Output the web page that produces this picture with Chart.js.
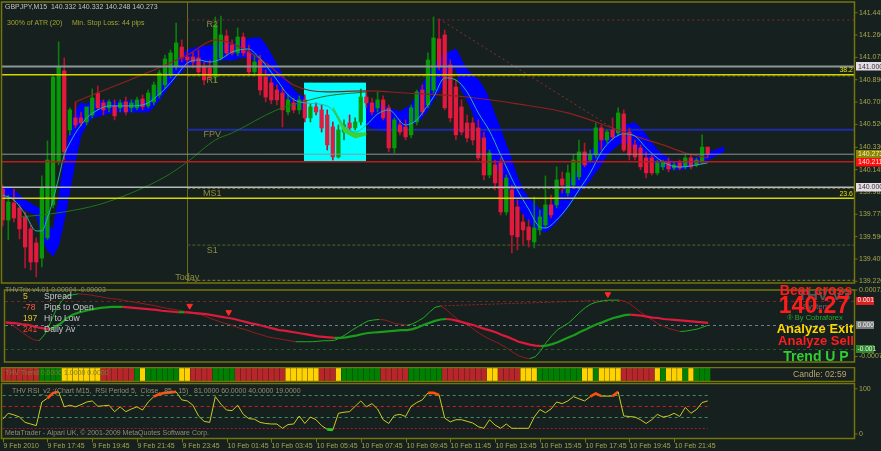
<!DOCTYPE html>
<html><head><meta charset="utf-8"><title>GBPJPY M15</title>
<script src="https://cdn.jsdelivr.net/npm/chart.js@4.4.1/dist/chart.umd.min.js"></script>
<style>
html,body{margin:0;padding:0;background:#16201f;overflow:hidden}
#wrap{position:relative;width:881px;height:451px;background:#16201f}
#wrap canvas{position:absolute;left:0}
</style></head><body>
<div id="wrap">
<canvas id="cMain" width="881" height="285" style="top:0;width:881px;height:285px"></canvas>
<canvas id="cOsc" width="881" height="82" style="top:285px;width:881px;height:82px"></canvas>
<canvas id="cStrip" width="881" height="15" style="top:367px;width:881px;height:15px"></canvas>
<canvas id="cRsi" width="881" height="69" style="top:382px;width:881px;height:69px"></canvas>
</div>
<script>
// ================= DATA =================
const opens=[139.985,139.728,139.869,139.828,139.753,139.654,139.538,139.413,139.580,139.853,
140.209,140.963,140.474,140.574,140.574,140.540,140.598,140.780,140.698,140.657,
140.673,140.657,140.706,140.657,140.657,140.731,140.673,140.706,140.764,140.847,
140.930,140.996,141.161,141.079,141.079,141.071,140.996,140.988,140.913,141.071,
141.253,141.178,141.112,141.244,141.120,140.955,141.054,140.913,140.864,140.805,
140.780,140.623,140.698,140.640,140.723,140.574,140.665,140.640,140.598,140.499,
140.250,140.457,140.532,140.491,140.540,140.747,140.698,140.657,140.723,140.657,
140.325,140.515,140.499,140.433,140.540,140.805,140.681,140.805,141.228,141.261,
141.012,140.830,140.665,140.532,140.532,140.491,140.408,140.101,140.184,140.201,
139.795,139.977,139.836,139.712,139.670,139.546,139.646,139.687,139.853,139.853,
140.068,139.952,140.018,140.085,140.292,140.225,140.267,140.491,140.391,140.474,
140.449,140.607,140.457,140.350,140.325,140.242,140.242,140.118,140.168,140.209,
140.159,140.201,140.168,140.242,140.184,140.209,140.332];
const highs=[140.018,139.935,139.985,139.853,139.794,139.687,139.580,140.093,140.383,140.930,
141.203,141.071,140.657,140.706,140.623,140.640,140.813,140.839,140.723,140.723,
140.723,140.723,140.747,140.723,140.747,140.764,140.805,140.872,140.971,141.095,
141.137,141.360,141.220,141.120,141.120,141.137,141.037,141.054,141.410,141.418,
141.302,141.220,141.319,141.278,141.178,141.095,141.095,140.971,140.905,140.847,
140.822,140.764,140.739,140.756,140.764,140.690,140.698,140.681,140.640,140.540,
140.515,140.557,140.598,140.574,140.813,140.789,140.739,140.789,140.756,140.681,
140.574,140.557,140.557,140.681,140.805,140.847,141.112,141.410,141.393,141.302,
141.054,140.888,140.723,140.598,140.574,140.557,140.457,140.308,140.225,140.242,
140.101,140.018,139.894,139.770,139.728,139.919,139.811,140.093,139.935,140.168,
140.126,140.184,140.267,140.391,140.366,140.308,140.532,140.515,140.474,140.574,
140.657,140.640,140.491,140.391,140.350,140.292,140.267,140.225,140.225,140.242,
140.209,140.225,140.267,140.267,140.242,140.433,140.332];
const lows=[139.679,139.563,139.711,139.571,139.331,139.314,139.256,139.339,139.563,139.828,
140.184,140.225,140.433,140.491,140.507,140.515,140.574,140.640,140.598,140.623,
140.557,140.623,140.598,140.623,140.640,140.640,140.657,140.681,140.739,140.822,
140.905,140.971,141.037,141.012,140.988,140.930,140.847,140.888,140.872,141.054,
141.087,141.095,141.087,141.087,140.930,140.930,140.764,140.706,140.690,140.681,
140.499,140.598,140.615,140.607,140.540,140.540,140.598,140.457,140.308,140.225,
140.242,140.391,140.474,140.474,140.515,140.657,140.598,140.623,140.557,140.292,
140.283,140.433,140.391,140.408,140.515,140.598,140.657,140.780,140.971,140.640,
140.540,140.391,140.433,140.374,140.350,140.225,140.060,140.076,139.977,139.770,
139.770,139.455,139.480,139.521,139.504,139.496,139.604,139.662,139.745,139.828,
139.952,139.927,139.993,140.060,140.168,140.209,140.242,140.308,140.366,140.391,
140.424,140.292,140.225,140.225,140.143,140.076,140.101,140.101,140.143,140.126,
140.143,140.143,140.151,140.151,140.168,140.192,140.248];
const closes=[139.728,139.877,139.745,139.654,139.504,139.380,139.380,139.994,140.225,140.913,
140.996,140.292,140.640,140.515,140.532,140.665,140.739,140.657,140.640,140.706,
140.590,140.698,140.623,140.698,140.723,140.665,140.780,140.847,140.946,141.062,
141.112,141.195,141.071,141.054,141.037,140.955,140.888,140.913,141.344,141.261,
141.112,141.112,141.244,141.112,140.955,141.037,140.805,140.747,140.723,140.723,
140.640,140.723,140.640,140.723,140.574,140.665,140.623,140.491,140.350,140.250,
140.474,140.515,140.491,140.540,140.747,140.698,140.623,140.723,140.574,140.325,
140.557,140.457,140.416,140.657,140.789,140.623,141.054,141.236,140.996,140.657,
140.574,140.433,140.457,140.408,140.391,140.242,140.101,140.283,140.035,139.795,
140.076,139.604,139.588,139.646,139.563,139.662,139.753,139.853,139.770,140.060,
140.018,140.118,140.225,140.292,140.184,140.267,140.491,140.391,140.457,140.416,
140.615,140.308,140.267,140.250,140.168,140.118,140.118,140.201,140.209,140.151,
140.184,140.159,140.242,140.168,140.225,140.332,140.273];

const bandIdx=[0,2,4,6,7,8,9,10,11,12,13,14,15,16,20,26,27,28,29,30,31,32,33,35,37,39,41,43,45,46,47,48,49,50,51,52,53,55,60,65,67,69,71,73,74,75,76,77,78,79,80,81,82,83,84,85,86,87,88,89,90,91,92,93,94,95,96,97,98,99,100,101,102,103,104,105,106,107,108,109,110,111,113,114,115,116,117,118,120,122,124,126,129];
const bandTop=[140.010,139.977,139.894,139.836,139.811,139.687,139.646,139.894,140.225,140.474,
140.640,140.698,140.681,140.723,140.706,140.723,140.789,140.847,140.913,140.988,
141.054,141.095,141.137,141.161,141.170,141.195,141.186,141.220,141.236,141.236,
141.178,141.095,141.012,140.930,140.872,140.805,140.764,140.723,140.681,140.698,
140.698,140.657,140.623,140.681,140.764,140.847,140.930,141.012,141.071,141.112,
141.120,141.145,141.054,140.971,140.930,140.888,140.822,140.723,140.598,140.474,
140.350,140.225,140.076,139.977,139.911,139.869,139.811,139.828,139.853,139.911,
139.977,140.043,140.101,140.159,140.225,140.292,140.350,140.391,140.408,140.433,
140.474,140.515,140.532,140.491,140.433,140.366,140.308,140.267,140.209,140.209,
140.242,140.283,140.333];
const bandBot=[139.919,139.894,139.811,139.770,139.604,139.480,139.430,139.521,139.728,139.977,
140.225,140.433,140.515,140.574,140.623,140.623,140.665,140.723,140.789,140.847,
140.913,140.955,141.012,141.029,141.029,141.054,141.054,141.079,141.054,141.012,
140.930,140.872,140.822,140.764,140.723,140.698,140.657,140.598,140.540,140.515,
140.474,140.457,140.474,140.515,140.540,140.574,140.640,140.723,140.789,140.888,
140.955,140.988,140.805,140.723,140.623,140.474,140.350,140.267,140.184,140.101,
140.018,139.935,139.853,139.770,139.712,139.662,139.646,139.629,139.662,139.712,
139.770,139.828,139.894,139.960,140.002,140.060,140.126,140.184,140.267,140.308,
140.350,140.374,140.325,140.292,140.250,140.209,140.176,140.159,140.143,140.151,
140.184,140.225,140.300];

const tealIdx=[0,2,4,6,7,8,9,10,11,12,13,14,15,17,19,23,26,28,29,31,33,35,37,39,41,44,45,47,49,51,53,58,60,61,63,65,67,69,72,74,76,77,79,81,83,85,87,89,92,94,96,97,99,101,103,105,107,109,111,113,115,118,121,124,126];
const tealVal=[139.935,139.894,139.778,139.637,139.637,139.745,139.894,140.076,140.267,140.366,
140.449,140.515,140.573,140.640,140.673,140.673,140.698,140.772,140.814,140.921,
141.029,141.054,141.037,141.062,141.120,141.145,141.112,141.012,140.888,140.764,
140.706,140.673,140.573,140.507,140.457,140.515,140.606,140.640,140.515,140.557,
140.681,140.747,140.905,140.888,140.789,140.615,140.466,140.267,139.977,139.819,
139.670,139.662,139.728,139.836,139.977,140.118,140.292,140.399,140.441,140.424,
140.325,140.209,140.167,140.184,140.201];
const maIdx=[13,33,38,42,47,52,58,65,72,83,92,101,110,114,118,122,126];
const maVal=[140.706,141.095,141.220,141.170,141.029,140.847,140.789,140.797,140.780,140.747,140.690,140.615,140.474,140.408,140.350,140.283,140.242];
const gmaIdx=[3,7,11,17,23,29,33,38,41,49,53,58,65];
const gmaVal=[139.753,139.770,139.795,139.853,139.952,140.085,140.209,140.391,140.449,140.640,140.698,140.756,140.789];
const limeIdx=[59,61,63,65];
const limeTop=[140.665,140.499,140.449,140.449];
const limeBot=[140.648,140.457,140.408,140.433];
const trendIdx=[78,111];
const trendVal=[141.393,140.433];
const zoneIdx=[53.85,64.93];
const zonePrice=[140.866,140.211];
const dayStartIdx=33;
const pivotNames=['R2','R1','FPV','MS1','S1','Today'];
const pivotLevels=[141.385,140.921,140.476,139.990,139.519,139.227];
const hLevels=[141.000,140.932,140.273,140.211,140.000,139.908];
const fibNames=['38.2','23.6'];
const fibLevels=[140.932,139.908];
const priceTicks=[141.445,141.260,141.075,140.890,140.705,140.520,140.330,140.145,139.962,139.775,139.590,139.405,139.220];
const priceTags=[141.000,140.273,140.211,140.000];
const headerText='GBPJPY,M15  140.332 140.332 140.248 140.273';
const atrTexts=['300% of ATR (20)','Min. Stop Loss:','44 pips'];

const trixFast=[0.00004,0.00001,-0.00007,-0.00016,-0.00024,-0.00031,-0.00033,-0.0002,0.00004,0.0003,
0.00049,0.0006,0.00062,0.00064,0.00063,0.00062,0.0006,0.00058,0.00056,0.00054,
0.00053,0.00051,0.00049,0.00047,0.00045,0.00043,0.00041,0.00039,0.00036,0.00034,
0.00032,0.0003,0.00028,0.00027,0.00023,0.00021,0.00017,0.00012,0.00008,0.00004,
0.00001,-0.00003,-0.00007,-0.0001,-0.00014,-0.00018,-0.00021,-0.00025,-0.00027,-0.00029,
-0.00031,-0.00033,-0.00035,-0.00035,-0.00035,-0.00035,-0.00034,-0.00033,-0.00033,-0.00032,
-0.00027,-0.0002,-0.00012,-0.00005,0.00002,0.00008,0.0001,0.00011,0.0001,0.00006,
0.00002,0.00001,-0.00001,0.00002,0.00008,0.00015,0.00026,0.00036,0.00039,0.00032,
0.00021,0.00012,0.00004,-0.00001,-0.0001,-0.00018,-0.00025,-0.00031,-0.00036,-0.00042,
-0.00049,-0.00057,-0.00064,-0.00068,-0.0007,-0.00066,-0.00053,-0.00036,-0.00022,-0.0001,
-0.00003,0.00004,0.00015,0.00026,0.00036,0.00043,0.00047,0.00049,0.00051,0.00051,
0.00051,0.00049,0.00043,0.00034,0.00025,0.00017,0.0001,0.00002,-0.00003,-0.00008,
-0.00011,-0.00014,-0.00013,-0.00011,-0.00009,-0.00005,-0.00001];
const trixSlow=[0.00005,0.00004,0.00003,0.00001,0,-0.00003,-0.00006,-0.00008,-0.00009,-0.00003,
0.00004,0.00014,0.00021,0.00025,0.00028,0.00031,0.00033,0.00035,0.00036,0.00037,
0.00037,0.00037,0.00036,0.00035,0.00034,0.00033,0.00032,0.00031,0.00029,0.00028,
0.00027,0.00026,0.00026,0.00025,0.00024,0.00023,0.00022,0.0002,0.00018,0.00016,
0.00014,0.00012,0.00009,0.00006,0.00003,0.00001,-0.00002,-0.00005,-0.00008,-0.00011,
-0.00012,-0.00014,-0.00016,-0.00018,-0.0002,-0.00022,-0.00024,-0.00025,-0.00026,-0.00027,
-0.00027,-0.00026,-0.00024,-0.00022,-0.00019,-0.00017,-0.00016,-0.00015,-0.00014,-0.00013,
-0.00012,-0.00011,-0.00011,-0.00009,-0.00005,0,0.00004,0.00008,0.00011,0.00012,
0.00011,0.00008,0.00005,0.00002,-0.00001,-0.00005,-0.00009,-0.00012,-0.00016,-0.00021,
-0.00025,-0.0003,-0.00035,-0.00038,-0.00041,-0.00043,-0.00044,-0.00043,-0.0004,-0.00036,
-0.00031,-0.00026,-0.00021,-0.00015,-0.0001,-0.00004,0.00001,0.00005,0.0001,0.00014,
0.00017,0.0002,0.00021,0.0002,0.00019,0.00017,0.00015,0.00014,0.00012,0.00011,
0.0001,0.00009,0.00008,0.00007,0.00006,0.00005,0.00004];
const trixLevels=[0.0005,0,-0.0005];
const trixTagText=['0.001','0.000','-0.001'];
const trixRange=[-0.00077,0.00072];
const trixTitle='THVTrix v4.01 0.00004 -0.00003';
const sellIdx=[33,40,108];
const sellVal=[0.00039,0.00026,0.00063];
const peakIdx=[78,108];
const peakVal=[0.00039,0.00051];
const infoValues=['5','-78','197','241'];
const infoNames=['Spread','Pips to Open','Hi to Low','Daily Av'];
const signalTexts=['Bear cross','140.27','Analyze Exit','Analyze Sell','Trend U P'];

// 1 = up (green), -1 = down (red), 0 = neutral (yellow)
const trendState=[-1,-1,-1,-1,-1,-1,-1,1,1,1,1,0,0,0,0,0,0,0,-1,-1,-1,-1,-1,-1,1,0,1,1,1,1,1,1,0,0,-1,-1,-1,-1,1,1,1,1,
-1,-1,-1,-1,-1,-1,-1,-1,-1,0,0,0,0,0,0,-1,-1,-1,0,1,1,1,1,1,1,1,-1,-1,-1,-1,-1,1,1,1,1,1,1,
-1,-1,-1,-1,-1,-1,-1,-1,0,0,-1,-1,-1,-1,0,0,0,1,1,1,1,1,1,1,1,0,0,1,0,0,0,0,-1,-1,-1,-1,-1,-1,0,1,0,0,0,1,0,1,1,1];
const trendTitle='THV Trend 0.0000 1.0000 0.0000';
const candleTimer='Candle: 02:59';

const rsi=[36,47,44,40,30,27,24,68,75,85, 87,59,62,59,63,68,70,60,61,62, 50,59,50,55,59,53,68,78,83,85,
86,87,72,70,62,42,32,30,78,64, 53,52,62,45,37,36,30,28,27,27, 19,26,27,42,28,40,35,24,17,16,
47,49,50,60,70,59,65,55,35,28, 43,45,41,60,67,72,85,85,81,38, 31,35,35,32,29,22,19,35,25,19,
27,19,19,19,19,40,54,48,55,68, 65,70,78,74,70,78,84,79,79,79, 87,42,41,40,35,28,35,45,40,42,
47,41,58,47,54,67,70];
const rsiLevels=[81,60,40,19];
const rsiTitle='THV RSI_v2 :(Chart M15,  RSI Period 5,  Close,  85 - 15)   81.0000 60.0000 40.0000 19.0000';
const copyrightText='MetaTrader - Alpari UK, \u00a9 2001-2009 MetaQuotes Software Corp.';
const timeTickIdx=[0,8,16,24,32,40,48,56,64,72,80,88,96,104,112,120];
const timeLabels=['9 Feb 2010','9 Feb 17:45','9 Feb 19:45','9 Feb 21:45','9 Feb 23:45','10 Feb 01:45','10 Feb 03:45','10 Feb 05:45','10 Feb 07:45','10 Feb 09:45','10 Feb 11:45','10 Feb 13:45','10 Feb 15:45','10 Feb 17:45','10 Feb 19:45','10 Feb 21:45'];

// ================= STYLE =================
const X_MIN=-0.125, X_MAX=152.15;
const FRAME='#75750a', AXT='#a6a64c';
const FT='abcdefghijklmnopqrstuvwxyz0123456789ABCDEF';
function hasFont(n){const c=document.createElement('canvas').getContext('2d');c.font='40px monospace';const a=c.measureText(FT).width;c.font="40px '"+n+"', monospace";return Math.abs(c.measureText(FT).width-a)>0.5;}
const HAS_NARROW=hasFont('Liberation Sans Narrow');
const SMALL=HAS_NARROW?"'Liberation Sans Narrow'":"'Liberation Sans'";
const SK=HAS_NARROW?1:0.82;
function fam(sz){return (sz*SK).toFixed(2)+'px '+SMALL+', Arial, sans-serif';}
function arial(sz,bold){return (bold?'bold ':'')+sz+"px 'Liberation Sans', Arial, sans-serif";}
function txt(ctx,s,x,y,font,color,align){ctx.save();ctx.font=font;ctx.fillStyle=color;ctx.textAlign=align||'left';ctx.textBaseline='middle';ctx.fillText(s,x,y);ctx.restore();}
function frame(chart){const {ctx,chartArea:ca}=chart;ctx.save();ctx.strokeStyle=FRAME;ctx.lineWidth=1.5;ctx.strokeRect(ca.left-0.5,ca.top,ca.width+1,ca.height);ctx.restore();}
function hseg(ctx,x0,x1,y,color,w,dash){ctx.save();ctx.strokeStyle=color;ctx.lineWidth=w;ctx.setLineDash(dash||[]);ctx.beginPath();ctx.moveTo(x0,y);ctx.lineTo(x1,y);ctx.stroke();ctx.restore();}
function rtick(ctx,ca,y){hseg(ctx,ca.right,ca.right+3.5,y,FRAME,1);}
function clipArea(ctx,ca){ctx.beginPath();ctx.rect(ca.left,ca.top,ca.width,ca.height);ctx.clip();}

const barIdx=opens.map((_,i)=>i);
const isBull=barIdx.map(i=>closes[i]>=opens[i]);
const pts=(xs,ys)=>xs.map((x,k)=>({x:x,y:ys[k]}));
const lineBase={type:'line',pointRadius:0,borderWidth:1,fill:false,tension:0};
function opts(yMin,yMax,pad){return {responsive:false,animation:false,events:[],layout:{padding:pad},
 plugins:{legend:{display:false},tooltip:{enabled:false}},
 scales:{x:{type:'linear',min:X_MIN,max:X_MAX,offset:false,display:false},
         y:{type:'linear',min:yMin,max:yMax,beginAtZero:false,display:false}}};}

// ---------- main panel ----------
const pivotStyle=[{c:'#7e2c2c',w:1.2,d:[2,3]},{c:'#6e6e22',w:1.2,d:[3,2]},{c:'#1f2ca6',w:2,d:[]},{c:'#6e6e22',w:1.2,d:[3,2]},{c:'#3c5a2a',w:1.2,d:[3,2]},{c:'#6e6e22',w:1.2,d:[3,2]}];
const hStyle=[{c:'#8c9696',w:2},{c:'#d6d600',w:1.5},{c:'#8c9696',w:1},{c:'#b81c1c',w:1.5},{c:'#b4bcbc',w:1.5},{c:'#d6d600',w:1.5}];
const tagStyle=[{bg:'#e6dce6',fg:'#333'},{bg:'#8e8600',fg:'#eeeecc'},{bg:'#ff1010',fg:'#ffe6e6'},{bg:'#e6dce6',fg:'#333'}];
const mainPlugin={id:'mainP',
 beforeDatasetDraw(chart,args){
  if(args.index!==2)return;
  const {ctx,chartArea:ca,scales:{x,y}}=chart;
  const x0=x.getPixelForValue(dayStartIdx);
  ctx.save();clipArea(ctx,ca);
  ctx.strokeStyle='#6c6c18';ctx.lineWidth=1;ctx.beginPath();ctx.moveTo(Math.round(x0)+0.5,ca.top);ctx.lineTo(Math.round(x0)+0.5,ca.bottom);ctx.stroke();
  pivotLevels.forEach((v,k)=>hseg(ctx,x0,ca.right,y.getPixelForValue(v),pivotStyle[k].c,pivotStyle[k].w,pivotStyle[k].d));
  const bx0=x.getPixelForValue(zoneIdx[0]),bx1=x.getPixelForValue(zoneIdx[1]);
  const by0=y.getPixelForValue(zonePrice[0]),by1=y.getPixelForValue(zonePrice[1]);
  ctx.fillStyle='#00ffff';ctx.fillRect(bx0,by0,bx1-bx0,by1-by0);
  ctx.restore();
 },
 afterDatasetsDraw(chart){
  const {ctx,chartArea:ca,scales:{x,y}}=chart;
  ctx.save();clipArea(ctx,ca);
  hLevels.forEach((v,k)=>hseg(ctx,ca.left,ca.right,y.getPixelForValue(v),hStyle[k].c,hStyle[k].w));
  const x0=x.getPixelForValue(dayStartIdx);
  pivotNames.forEach((n,k)=>{const py=y.getPixelForValue(pivotLevels[k]);
    if(n==='Today')txt(ctx,n,x0,py-2.5,arial(9),'#8c8c40','center');
    else txt(ctx,n,x0+25,py+5,arial(9),'#8c8c40','center');});
  fibNames.forEach((n,k)=>txt(ctx,n,ca.right-1,y.getPixelForValue(fibLevels[k])-4.2,fam(8.5),'#e2e200','right'));
  ctx.restore();
 },
 afterDraw(chart){
  const {ctx,chartArea:ca,scales:{y}}=chart;
  frame(chart);
  priceTicks.forEach(v=>{const py=y.getPixelForValue(v);rtick(ctx,ca,py);txt(ctx,v.toFixed(3),ca.right+5,py,fam(8.5),AXT);});
  priceTags.forEach((v,k)=>{const py=y.getPixelForValue(v);ctx.save();ctx.fillStyle=tagStyle[k].bg;ctx.fillRect(ca.right+2,Math.round(py)-4,27,8.5);ctx.restore();
    txt(ctx,v.toFixed(3),ca.right+4,py+0.3,fam(8.5),tagStyle[k].fg);});
  txt(ctx,headerText,5,7,fam(8.5),'#c2c2c2');
  [7,72,122].forEach((px,k)=>txt(ctx,atrTexts[k],px,23,fam(8.5),'#a4a42c'));
 }};
new Chart(document.getElementById('cMain'),{type:'bar',
 data:{datasets:[
  {...lineBase,label:'Band upper',data:pts(bandIdx,bandTop),borderColor:'#0000ff',backgroundColor:'#0000ff',fill:'+1',order:20},
  {...lineBase,label:'Band lower',data:pts(bandIdx,bandBot),borderColor:'#0000ff',order:19},
  {type:'bar',label:'High-Low',data:barIdx.map(i=>({x:i,y:[lows[i],highs[i]]})),backgroundColor:barIdx.map(i=>isBull[i]?'#0b7d0b':'#b5142e'),barThickness:1,grouped:false,order:15},
  {type:'bar',label:'Open-Close',data:barIdx.map(i=>({x:i,y:[opens[i],closes[i]]})),backgroundColor:barIdx.map(i=>isBull[i]?'#079a07':'#e3193d'),barThickness:3.6,minBarLength:1,grouped:false,order:14},
  {...lineBase,label:'Lime upper',data:pts(limeIdx,limeTop),borderColor:'#3ad23a',backgroundColor:'#3ad23a',fill:'+1',order:13},
  {...lineBase,label:'Lime lower',data:pts(limeIdx,limeBot),borderColor:'#3ad23a',order:12},
  {...lineBase,label:'Green MA',data:pts(gmaIdx,gmaVal),borderColor:'#1f7420',cubicInterpolationMode:'monotone',order:11},
  {...lineBase,label:'Red MA',data:pts(maIdx,maVal),borderColor:'#8e2020',borderWidth:1.2,cubicInterpolationMode:'monotone',order:10},
  {...lineBase,label:'Signal',data:pts(tealIdx,tealVal),borderColor:'#25b3ae',cubicInterpolationMode:'monotone',order:9},
  {...lineBase,label:'Trend',data:pts(trendIdx,trendVal),borderColor:'#8e3030',borderDash:[2,3],order:8}
 ]},
 options:opts(139.206,141.534,{left:2,right:27,top:2,bottom:2}),
 plugins:[mainPlugin]});

// ---------- THVTrix panel ----------
const trixLvlStyle=[{c:'#7c2424'},{c:'#6a7c8e'},{c:'#245a24'}];
const trixTagBg=['#d82222','#7e7e7e','#2a8a2a'];
const infoColors=['#e6c020','#ff5a3c','#e6c020','#ff4030'];
const oscPlugin={id:'oscP',
 beforeDatasetsDraw(chart){const {ctx,chartArea:ca,scales:{y}}=chart;
  trixLevels.forEach((v,k)=>hseg(ctx,ca.left,ca.right,Math.round(y.getPixelForValue(v))+0.5,trixLvlStyle[k].c,1,[3,3]));},
 afterDraw(chart){const {ctx,chartArea:ca,scales:{y}}=chart;
  frame(chart);
  txt(ctx,trixTitle,5,5.5,fam(8.5),'#8e8e78');
  const iy=[11.5,23,33.5,44.5];
  infoValues.forEach((s,k)=>{txt(ctx,s,23,iy[k],fam(10.5),infoColors[k]);txt(ctx,infoNames[k],44,iy[k],fam(10.5),'#c8c8c8');});
  txt(ctx,'THV V3',824,11,arial(15,true),'#585858','center');
  txt(ctx,'System',816,22,arial(8),'#6a6a6a','center');
  txt(ctx,'\u00ae By Cobraforex',815,33,arial(7.5),'#2ea82e','center');
  txt(ctx,signalTexts[0],816,6,arial(14,true),'#ff1c1c','center');
  txt(ctx,signalTexts[1],814,22,arial(23,true),'#ff1c1c','center');
  txt(ctx,signalTexts[2],815,44,arial(13,true),'#ffd700','center');
  txt(ctx,signalTexts[3],816,56,arial(13,true),'#ff1c1c','center');
  txt(ctx,signalTexts[4],816,72,arial(14,true),'#32cd32','center');
  rtick(ctx,ca,5);txt(ctx,trixRange[1].toFixed(5),ca.right+5,5,fam(8.5),AXT);
  rtick(ctx,ca,ca.bottom-5.5);txt(ctx,trixRange[0].toFixed(5),ca.right+5,ca.bottom-5.5,fam(8.5),AXT);
  trixLevels.forEach((v,k)=>{const py=y.getPixelForValue(v);ctx.save();ctx.fillStyle=trixTagBg[k];ctx.fillRect(ca.right+2,Math.round(py)-4,18,8);ctx.restore();
    txt(ctx,trixTagText[k],ca.right+3.5,py,fam(8),'#f2f2f2');});
 }};
const up=(c,g,r)=>c.p1.parsed.y>=c.p0.parsed.y?g:r;
new Chart(document.getElementById('cOsc'),{type:'line',
 data:{datasets:[
  {...lineBase,label:'Sell',data:pts(sellIdx,sellVal),showLine:false,pointRadius:3.2,pointStyle:'triangle',rotation:180,pointBackgroundColor:'#ff2a2a',pointBorderColor:'#ff2a2a',order:1},
  {...lineBase,label:'Peak line',data:pts(peakIdx,peakVal),borderColor:'#9a2a2a',borderDash:[2,2],order:5},
  {...lineBase,label:'Trix fast',data:pts(barIdx,trixFast),borderColor:'#961c1c',segment:{borderColor:c=>up(c,'#1fae1f','#961c1c')},order:4},
  {...lineBase,label:'Trix slow',data:pts(barIdx,trixSlow),borderWidth:2.2,borderColor:'#dc1a3c',segment:{borderColor:c=>up(c,'#1c9c1c','#dc1a3c')},order:3}
 ]},
 options:opts(trixRange[0],trixRange[1],{left:2,right:27,top:0.5,bottom:1}),
 plugins:[oscPlugin]});

// ---------- trend strip ----------
const stateColor={'1':'#008000','-1':'#b8262a','0':'#ffd200'};
const stripPlugin={id:'stripP',afterDraw(chart){const {ctx}=chart;frame(chart);
  txt(ctx,trendTitle,5,6.5,fam(8.5),'#7c7c34');
  txt(ctx,candleTimer,793,8,fam(10.5),'#bca470');}};
new Chart(document.getElementById('cStrip'),{type:'bar',
 data:{datasets:[{label:'THV Trend',data:barIdx.map(i=>({x:i,y:[0,1]})),backgroundColor:trendState.map(s=>stateColor[String(s)]),barThickness:4.6,grouped:false}]},
 options:opts(0,1,{left:2,right:27,top:0.5,bottom:0.5}),
 plugins:[stripPlugin]});

// ---------- RSI panel ----------
const rsiLvlStyle=[{c:'#3f8f60',d:[3,3]},{c:'#d41c1c',d:[3,3]},{c:'#3f8f60',d:[3,3]},{c:'#a01c30',d:[2,2]}];
const rsiPlugin={id:'rsiP',
 beforeDatasetsDraw(chart){const {ctx,scales:{x,y}}=chart;
  const x0=x.getPixelForValue(0),x1=x.getPixelForValue(barIdx.length-1);
  rsiLevels.forEach((v,k)=>hseg(ctx,x0,x1,Math.round(y.getPixelForValue(v))+0.5,rsiLvlStyle[k].c,1,rsiLvlStyle[k].d));},
 afterDraw(chart){const {ctx,chartArea:ca,scales:{x,y}}=chart;
  frame(chart);
  txt(ctx,rsiTitle,12,9,fam(8.5),'#8e8e72');
  txt(ctx,copyrightText,5,51,fam(8.5),'#8e8e72');
  const p100=y.getPixelForValue(100)+4,p0=y.getPixelForValue(0)-4.5;
  rtick(ctx,ca,p100);txt(ctx,'100',ca.right+5,p100,fam(8.5),AXT);
  rtick(ctx,ca,p0);txt(ctx,'0',ca.right+5,p0,fam(8.5),AXT);
  timeTickIdx.forEach((i,k)=>{const px=Math.round(x.getPixelForValue(i))+0.5;
    ctx.save();ctx.strokeStyle=FRAME;ctx.lineWidth=1;ctx.beginPath();ctx.moveTo(px,ca.bottom+0.5);ctx.lineTo(px,ca.bottom+4);ctx.stroke();ctx.restore();
    txt(ctx,timeLabels[k],px,ca.bottom+8,fam(8.5),AXT);});
 }};
const avg=c=>(c.p0.parsed.y+c.p1.parsed.y)/2;
new Chart(document.getElementById('cRsi'),{type:'line',
 data:{datasets:[{...lineBase,label:'RSI',data:pts(barIdx,rsi),borderColor:'#cccc22',
   segment:{borderColor:c=>avg(c)>=80?'#ff5010':(avg(c)<=18?'#22cc22':undefined),borderWidth:c=>(avg(c)>=80||avg(c)<=18)?2.6:undefined}}]},
 options:opts(0,102.5,{left:2,right:27,top:1.5,bottom:12.5}),
 plugins:[rsiPlugin]});
</script></body></html>
